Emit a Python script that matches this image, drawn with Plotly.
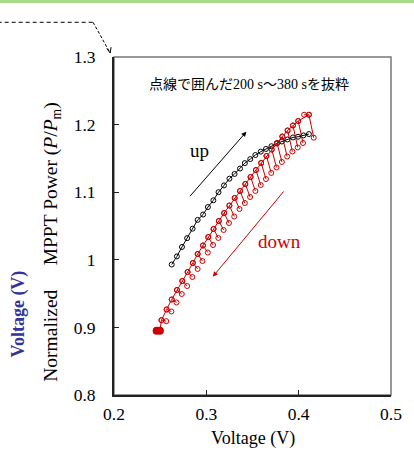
import plotly.graph_objects as go

# ---- data ----
up_v = [0.2625, 0.2681, 0.2736, 0.2792, 0.2851, 0.2906, 0.2965, 0.3017, 0.3076, 0.3132,
        0.3191, 0.3250, 0.3306, 0.3365, 0.3417, 0.3476, 0.3531, 0.3590, 0.3646, 0.3705,
        0.3764, 0.3819, 0.3878, 0.3938, 0.3993, 0.4052, 0.4111]
up_p = [0.993, 1.005, 1.019, 1.032, 1.046, 1.059, 1.067, 1.078, 1.088, 1.100,
        1.110, 1.120, 1.127, 1.135, 1.143, 1.149, 1.155, 1.160, 1.164, 1.168,
        1.172, 1.175, 1.178, 1.181, 1.182, 1.184, 1.186]

down_start_v = [0.4059]
down_start_p = [1.2146]
down_upper_v = [0.4111, 0.3995, 0.3938, 0.3880, 0.3823, 0.3766, 0.3708, 0.3651, 0.3594, 0.3537,
                0.3479, 0.3422, 0.3365, 0.3307, 0.3250, 0.3193, 0.3135, 0.3078, 0.3021, 0.2964,
                0.2906, 0.2854, 0.2797, 0.2740, 0.2682, 0.2625, 0.2570, 0.2514]
down_upper_p = [1.2146, 1.2053, 1.1987, 1.1913, 1.1824, 1.1728, 1.1632, 1.1536, 1.1432, 1.1328,
                1.1225, 1.1121, 1.1018, 1.0914, 1.0803, 1.0692, 1.0574, 1.0456, 1.0337, 1.0212,
                1.0086, 0.9953, 0.9820, 0.9686, 0.9553, 0.9413, 0.9265, 0.9107]
down_lower_v = [0.4163, 0.4047, 0.3990, 0.3932, 0.3875, 0.3818, 0.3760, 0.3703, 0.3646, 0.3589,
                0.3531, 0.3474, 0.3417, 0.3359, 0.3302, 0.3245, 0.3187, 0.3130, 0.3073, 0.3016,
                0.2958, 0.2906, 0.2849, 0.2792, 0.2734, 0.2677, 0.2622, 0.2566]
down_lower_p = [1.1806, 1.1728, 1.1662, 1.1602, 1.1528, 1.1447, 1.1366, 1.1285, 1.1195, 1.1106,
                1.1018, 1.0929, 1.0840, 1.0751, 1.0640, 1.0544, 1.0441, 1.0323, 1.0219, 1.0108,
                0.9982, 0.9864, 0.9746, 0.9612, 0.9494, 0.9369, 0.9235, 0.9092]
down_end_v = [0.2497, 0.2462]
down_end_p = [0.8951, 0.8951]

x_ticks = [0.2, 0.3, 0.4, 0.5]
x_tick_labels = ["0.2", "0.3", "0.4", "0.5"]
y_ticks = [0.8, 0.9, 1.0, 1.1, 1.2, 1.3]
y_tick_labels = ["0.8", "0.9", "1", "1.1", "1.2", "1.3"]

RED = "rgb(204,0,0)"
SERIF = "Liberation Serif, Times New Roman, serif"

# upper envelope line (down sweep) and comb teeth to the lower points
env_v = down_start_v + down_upper_v + down_end_v
env_p = down_start_p + down_upper_p + down_end_p
teeth_v, teeth_p = [], []
for uv, up_, lv, lp in zip(down_upper_v, down_upper_p, down_lower_v, down_lower_p):
    teeth_v += [uv, lv, None]
    teeth_p += [up_, lp, None]

fig = go.Figure()
fig.add_trace(go.Scatter(x=up_v, y=up_p, mode="lines+markers",
                         line=dict(color="black", width=1),
                         marker=dict(symbol="circle-open", size=5, color="black", line=dict(width=1)),
                         showlegend=False))
fig.add_trace(go.Scatter(x=teeth_v, y=teeth_p, mode="lines+markers",
                         line=dict(color=RED, width=1),
                         marker=dict(symbol="circle-open", size=5, color=RED, line=dict(width=1)),
                         showlegend=False))
fig.add_trace(go.Scatter(x=env_v, y=env_p, mode="lines+markers",
                         line=dict(color=RED, width=1),
                         marker=dict(symbol="circle-open", size=5, color=RED, line=dict(width=1)),
                         showlegend=False))
fig.add_trace(go.Scatter(x=down_end_v, y=down_end_p, mode="markers",
                         marker=dict(symbol="circle", size=8, color=RED),
                         showlegend=False))

# frame (top/right in gray)
fig.add_shape(type="rect", xref="paper", yref="paper", x0=0, y0=0, x1=1, y1=1,
              line=dict(color="#777777", width=1.5), layer="below")
# green top band
fig.add_shape(type="line", xref="paper", yref="paper", x0=-0.45, x1=1.1, y0=1.164, y1=1.164,
              line=dict(color="#a9d98c", width=3))
# dashed callout
fig.add_shape(type="line", xref="paper", yref="paper", x0=-0.42, x1=-0.0756, y0=1.1027, y1=1.1027,
              line=dict(color="black", width=1, dash="4px,3px"))
fig.add_shape(type="line", xref="paper", yref="paper", x0=-0.0756, x1=-0.0139, y0=1.1027, y1=1.0118,
              line=dict(color="black", width=1, dash="3px,2px"))
fig.add_shape(type="line", xref="paper", yref="paper", x0=-0.0139, x1=-0.0260, y0=1.0118, y1=1.0255,
              line=dict(color="black", width=1))
fig.add_shape(type="line", xref="paper", yref="paper", x0=-0.0139, x1=-0.0105, y0=1.0118, y1=1.0290,
              line=dict(color="black", width=1))

ann = []
ann.append(dict(x=0.3434, y=1.1895, ax=0.2809, ay=1.0919, xref="x", yref="y", axref="x", ayref="y",
                showarrow=True, arrowhead=2, arrowsize=1, arrowwidth=1, arrowcolor="black", text=""))
ann.append(dict(x=0.3070, y=0.9750, ax=0.3851, ay=1.1033, xref="x", yref="y", axref="x", ayref="y",
                showarrow=True, arrowhead=2, arrowsize=1, arrowwidth=1, arrowcolor=RED, text=""))
ann.append(dict(x=0.2922, y=1.1624, xref="x", yref="y", text="up", showarrow=False,
                font=dict(family=SERIF, size=19, color="black")))
ann.append(dict(x=0.3792, y=1.0278, xref="x", yref="y", text="down", showarrow=False,
                font=dict(family=SERIF, size=19, color=RED)))
ann.append(dict(x=0.3462, y=1.2586, xref="x", yref="y", text="点線で囲んだ200 s〜380 sを抜粋",
                showarrow=False, xanchor="center", yanchor="middle",
                font=dict(family="Liberation Serif, Noto Sans CJK JP", size=14, color="black")))
ann.append(dict(x=-0.222, y=0.452, xref="paper", yref="paper", textangle=-90, showarrow=False,
                xanchor="center", yanchor="middle",
                text="Normalized \u2003MPPT Power (<i>P</i>/<i>P</i><sub>m</sub>)",
                font=dict(family=SERIF, size=19.5, color="black")))
ann.append(dict(x=0.5, y=-0.128, xref="paper", yref="paper", showarrow=False,
                xanchor="center", yanchor="middle",
                text="Voltage (V)", font=dict(family=SERIF, size=18, color="black")))
ann.append(dict(x=-0.345, y=0.2396, xref="paper", yref="paper", textangle=-90, showarrow=False,
                xanchor="center", yanchor="middle",
                text="<b>Voltage (V)</b>", font=dict(family=SERIF, size=18, color="#333399")))

fig.update_layout(
    width=414, height=451,
    margin=dict(l=114, r=13, t=57, b=56),
    paper_bgcolor="white", plot_bgcolor="white",
    annotations=ann,
    showlegend=False,
)
fig.update_xaxes(range=[0.2, 0.5], tickvals=x_ticks, ticktext=x_tick_labels,
                 ticks="inside", ticklen=5, tickwidth=1, tickcolor="#222",
                 showline=True, linecolor="#222", linewidth=2, showgrid=False, zeroline=False,
                 tickfont=dict(family=SERIF, size=17.5, color="black"), ticklabelstandoff=2)
fig.update_yaxes(range=[0.8, 1.3], tickvals=y_ticks, ticktext=y_tick_labels,
                 ticks="inside", ticklen=5, tickwidth=1, tickcolor="#222",
                 showline=True, linecolor="#222", linewidth=2, showgrid=False, zeroline=False,
                 tickfont=dict(family=SERIF, size=17.5, color="black"), ticklabelstandoff=13)

fig.write_html("out.html", config={"displayModeBar": False},
               post_script="document.body.style.margin='0';document.body.style.overflow='hidden';")
